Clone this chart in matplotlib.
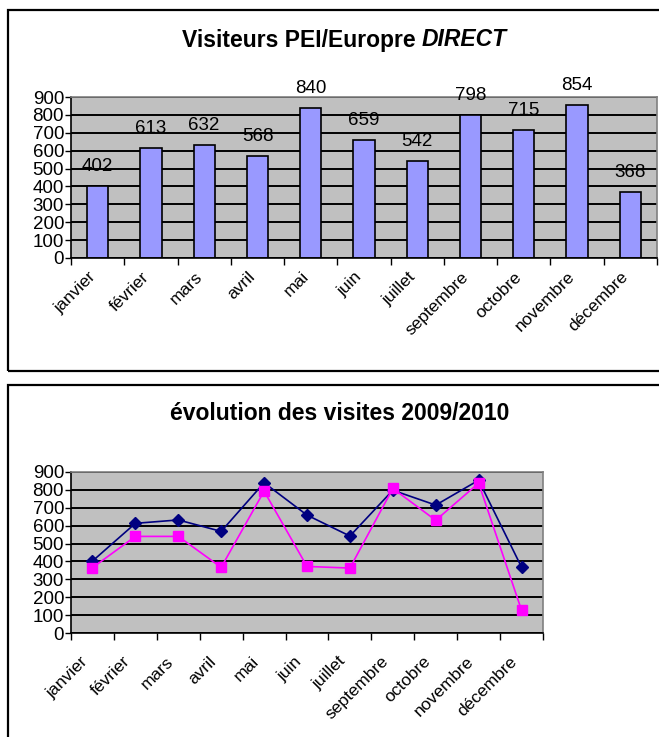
"""Visiteurs PEI/Europe DIRECT: bar chart and 2009/2010 line comparison."""

import matplotlib

matplotlib.use("Agg")
import matplotlib.pyplot as plt  # noqa: E402
import numpy as np  # noqa: E402
from matplotlib.patches import Rectangle  # noqa: E402

MONTHS = [
    "janvier", "février", "mars", "avril", "mai", "juin",
    "juillet", "septembre", "octobre", "novembre", "décembre",
]
VISITS_2010 = [402, 613, 632, 568, 840, 659, 542, 798, 715, 854, 368]
VISITS_2009 = [365, 540, 540, 367, 793, 372, 363, 808, 630, 838, 127]
Y_TICKS = list(range(0, 1000, 100))

plt.rcParams["font.family"] = ["Liberation Sans", "DejaVu Sans"]

BAR_COLOR = "#9999FF"
PLOT_BG = "#C0C0C0"
W, H = 659, 737


def _style_axis(ax, label_offset):
    x = np.arange(len(MONTHS))
    ax.set_facecolor(PLOT_BG)
    ax.set_xlim(-0.5, len(MONTHS) - 0.5)
    ax.set_ylim(0, 900)
    ax.set_yticks(Y_TICKS)
    ax.tick_params(axis="y", labelsize=13.5, length=4, width=1, pad=1)
    ax.set_xticks(np.arange(len(MONTHS) + 1) - 0.5)
    ax.set_xticklabels([])
    ax.tick_params(axis="x", length=5, width=1)
    ax.yaxis.grid(True, color="black", linewidth=1.4)
    ax.set_axisbelow(True)
    for side in ("top", "right"):
        ax.spines[side].set_color("#808080")
        ax.spines[side].set_linewidth(1.2)
    for side in ("left", "bottom"):
        ax.spines[side].set_linewidth(1.2)
    for i, name in enumerate(MONTHS):
        ax.annotate(name, (x[i], 0), xycoords=("data", "axes fraction"),
                    xytext=label_offset, textcoords="offset points",
                    rotation=45, rotation_mode="anchor",
                    ha="right", va="top", fontsize=12.5)


fig = plt.figure(figsize=(W / 100, H / 100), dpi=100)

# chart frames
for x0, y_top, y_bot in ((8, 10, 371), (8, 385, 760)):
    fig.patches.append(Rectangle((x0 / W, 1 - y_bot / H), (W + 20 - x0) / W,
                                 (y_bot - y_top) / H, transform=fig.transFigure,
                                 fill=False, edgecolor="black", linewidth=1.6))

# top: bars
ax1 = fig.add_axes([71 / W, 1 - 258 / H, 586 / W, 161 / H])
_style_axis(ax1, (-7, -8))
x = np.arange(len(MONTHS))
ax1.bar(x, VISITS_2010, width=0.4, color=BAR_COLOR, edgecolor="black", linewidth=1.2)
for xi, v in zip(x, VISITS_2010):
    ax1.annotate(str(v), (xi, v), xytext=(0, 8), textcoords="offset points",
                 ha="center", va="bottom", fontsize=13.5, annotation_clip=False)
fig.text(422 / W, 1 - 40 / H, "Visiteurs PEI/Europre ", ha="right", va="center",
         fontsize=16.5, fontweight="bold")
fig.text(422 / W, 1 - 40 / H, "DIRECT", ha="left", va="center",
         fontsize=16.5, fontweight="bold", style="italic")

# bottom: lines
ax2 = fig.add_axes([71 / W, 1 - 633 / H, 472 / W, 161 / H])
_style_axis(ax2, (-9, -15))
ax2.plot(x, VISITS_2010, color="#000080", marker="D", markersize=6, linewidth=1.2)
ax2.plot(x, VISITS_2009, color="#FF00FF", marker="s", markersize=7, linewidth=1.2)
fig.text(340 / W, 1 - 413 / H, "évolution des visites 2009/2010", ha="center",
         va="center", fontsize=16.5, fontweight="bold")

fig.savefig("out.png", dpi=100, facecolor="white")
